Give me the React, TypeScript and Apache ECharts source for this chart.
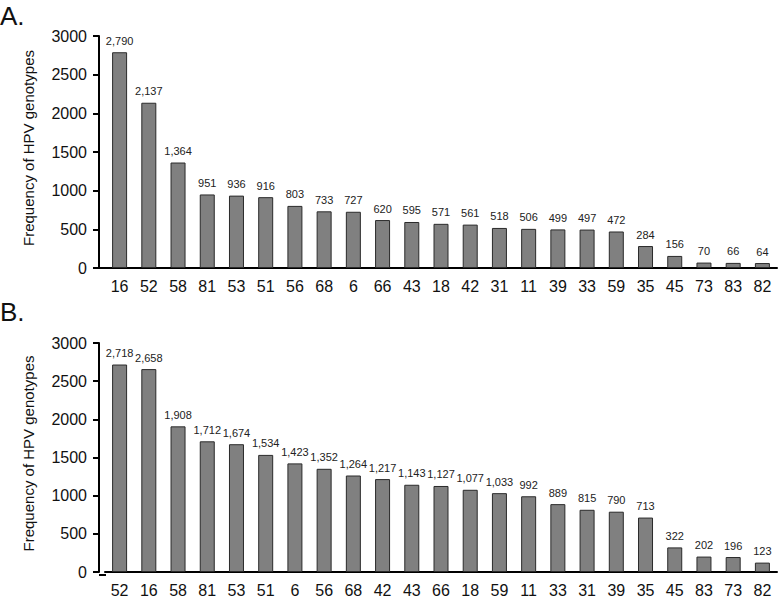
import React, { useEffect, useRef } from "react";
import * as echarts from "echarts";

const catsA = ["16","52","58","81","53","51","56","68","6","66","43","18","42","31","11","39","33","59","35","45","73","83","82"];
const valsA = [2790,2137,1364,951,936,916,803,733,727,620,595,571,561,518,506,499,497,472,284,156,70,66,64];
const catsB = ["52","16","58","81","53","51","6","56","68","42","43","66","18","59","11","33","31","39","35","45","83","73","82"];
const valsB = [2718,2658,1908,1712,1674,1534,1423,1352,1264,1217,1143,1127,1077,1033,992,889,815,790,713,322,202,196,123];
const yTicks = [0, 500, 1000, 1500, 2000, 2500, 3000];
const yName = "Frequency of HPV genotypes";
const panelTitles = ["A.", "B."];

const FONT = "'Liberation Sans', Arial, sans-serif";

export default function App() {
  const ref = useRef<HTMLDivElement>(null);
  useEffect(() => {
    if (!ref.current) return;
    const chart = echarts.init(ref.current, null, { renderer: "svg" });
    const grids = [
      { left: 105, right: 3, top: 36, height: 232 },
      { left: 105, right: 3, top: 343, height: 232 },
    ];
    const mkX = (cats: string[], gi: number) => ({
      type: "category",
      gridIndex: gi,
      data: cats,
      axisLine: { lineStyle: { color: "#000", width: 2 } },
      axisTick: { alignWithLabel: true, length: 5, lineStyle: { color: "#000", width: 2 } },
      axisLabel: { color: "#111", fontSize: 16, fontFamily: FONT, margin: 10, interval: 0 },
    });
    const mkY = (gi: number) => ({
      type: "value",
      gridIndex: gi,
      min: yTicks[0],
      max: yTicks[yTicks.length - 1],
      interval: 500,
      offset: 6,
      name: yName,
      nameLocation: "middle",
      nameGap: 63,
      nameTextStyle: { color: "#111", fontSize: 15, fontFamily: FONT, padding: [0, 0, 0, 8] },
      splitLine: { show: false },
      axisLine: { show: true, lineStyle: { color: "#000", width: 2 } },
      axisTick: { show: true, length: 6, lineStyle: { color: "#000", width: 2 } },
      axisLabel: { color: "#111", fontSize: 16, fontFamily: FONT, margin: 12, formatter: (v: number) => String(v) },
    });
    const mkS = (vals: number[], gi: number) => ({
      type: "bar",
      xAxisIndex: gi,
      yAxisIndex: gi,
      data: vals,
      barWidth: 15,
      itemStyle: { color: "#808080", borderColor: "#2a2a2a", borderWidth: 1 },
      label: {
        show: true,
        position: "top",
        distance: 6,
        color: "#222",
        fontSize: 11,
        fontFamily: FONT,
        formatter: (p: any) => Number(p.value).toLocaleString("en-US"),
      },
    });
    chart.setOption({
      animation: false,
      backgroundColor: "#fff",
      grid: grids,
      xAxis: [mkX(catsA, 0), mkX(catsB, 1)],
      yAxis: [mkY(0), mkY(1)],
      series: [mkS(valsA, 0), mkS(valsB, 1)],
      graphic: [
        { type: "text", left: 0, top: 3, style: { text: panelTitles[0], fontSize: 26, fontFamily: FONT, fill: "#111" } },
        { type: "text", left: 0, top: 299, style: { text: panelTitles[1], fontSize: 26, fontFamily: FONT, fill: "#111" } },
        { type: "line", shape: { x1: 99, y1: 268, x2: 106, y2: 268 }, style: { stroke: "#000", lineWidth: 2 } },
        { type: "line", shape: { x1: 99, y1: 575, x2: 106, y2: 575 }, style: { stroke: "#000", lineWidth: 2 } },
      ],
    });
    return () => chart.dispose();
  }, []);
  return <div ref={ref} style={{ width: 780, height: 598, position: "absolute", left: 0, top: 0 }} />;
}
